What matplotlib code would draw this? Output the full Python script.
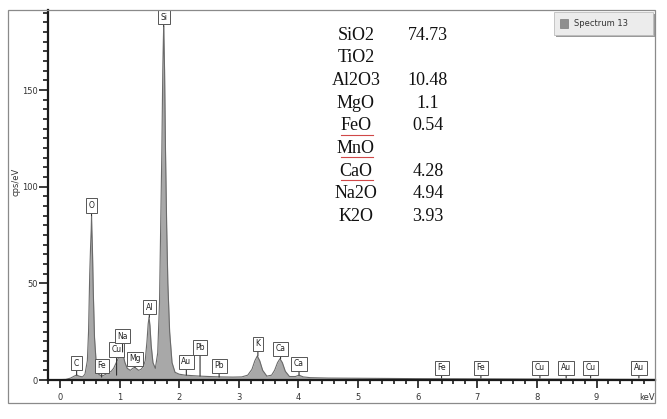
import numpy as np
import matplotlib
matplotlib.use('Agg')
import matplotlib.pyplot as plt
from matplotlib.patches import Rectangle
from matplotlib.lines import Line2D
from matplotlib.ticker import MultipleLocator

# Spectrum trace (keV, cps/eV)
energy_kev = [-0.20, 0.10, 0.18, 0.24, 0.28, 0.32, 0.38, 0.42, 0.46, 0.48, 0.50,
              0.515, 0.525, 0.53, 0.535, 0.545, 0.56, 0.58, 0.61, 0.65, 0.70,
              0.74, 0.80, 0.86, 0.90, 0.93, 0.96, 0.99, 1.02, 1.04, 1.06, 1.09,
              1.13, 1.18, 1.22, 1.25, 1.28, 1.32, 1.36, 1.40, 1.43, 1.46, 1.48,
              1.495, 1.51, 1.53, 1.56, 1.60, 1.64, 1.67, 1.69, 1.71, 1.725,
              1.735, 1.74, 1.745, 1.755, 1.77, 1.79, 1.81, 1.84, 1.88, 1.93,
              2.00, 2.10, 2.20, 2.35, 2.50, 2.70, 2.90, 3.05, 3.15, 3.22, 3.27,
              3.31, 3.35, 3.40, 3.47, 3.55, 3.60, 3.65, 3.69, 3.73, 3.78, 3.85,
              3.95, 4.01, 4.08, 4.20, 4.50, 5.00, 6.00, 7.00, 8.00, 9.00, 10.0]
counts_cps = [0.0, 0.3, 1.0, 2.0, 2.6, 2.0, 1.6, 3.0, 10, 25, 55,
              70, 78, 85, 78, 68, 45, 22, 8, 3.0, 2.0,
              2.5, 3.5, 4.5, 6.0, 8.0, 10, 12, 13.5, 14.5, 13, 9,
              6.0, 5.0, 6.0, 6.5, 6.0, 5.0, 5.5, 7.0, 10, 20, 29,
              32.5, 28, 18, 9, 6.0, 14, 40, 80, 120, 160,
              176, 183, 176, 160, 120, 80, 50, 25, 9, 4.0,
              3.0, 2.5, 2.3, 2.0, 1.8, 1.6, 1.5, 1.6, 2.5, 5.5, 10,
              12.4, 10, 5.0, 2.0, 2.5, 5.0, 9.0, 11, 9.0, 4.5, 1.8,
              1.8, 2.5, 1.6, 1.2, 1.0, 0.9, 0.7, 0.6, 0.5, 0.4, 0.3]

# Peak markers: element, energy, tip height, box bottom
peak_names = ['C', 'O', 'Fe', 'Cu', 'Na', 'Mg', 'Al', 'Si', 'Au', 'Pb', 'Pb',
              'K', 'Ca', 'Ca', 'Fe', 'Fe', 'Cu', 'Au', 'Cu', 'Au']
peak_kev = [0.28, 0.53, 0.70, 0.95, 1.05, 1.26, 1.50, 1.74, 2.12, 2.35, 2.67,
            3.32, 3.70, 4.01, 6.40, 7.06, 8.05, 8.49, 8.90, 9.71]
peak_tip = [2.5, 85, 1.5, 2.5, 14.5, 6.5, 32.5, 183, 2.5, 2.0, 1.5,
            12.4, 11, 2.5, 1.0, 1.0, 1.0, 1.0, 1.0, 1.0]
peak_box = [5.0, 86.5, 3.6, 12, 19, 7.3, 34, 184, 5.7, 13, 3.6,
            15, 12.4, 4.7, 2.6, 2.6, 2.6, 2.6, 2.6, 2.6]

# Oxide composition table
oxides = ['SiO2', 'TiO2', 'Al2O3', 'MgO', 'FeO', 'MnO', 'CaO', 'Na2O', 'K2O']
oxide_wt = ['74.73', '', '10.48', '1.1', '0.54', '', '4.28', '4.94', '3.93']
flagged = ['FeO', 'MnO', 'CaO']

W, H = 667, 419
fig = plt.figure(figsize=(W / 100, H / 100), dpi=100)
fig.patch.set_facecolor('white')


def fx(px):
    return px / W


def fy(py):
    return 1 - py / H


# outer frame
fig.patches.append(Rectangle((fx(8), fy(403)), fx(655) - fx(8), fy(10) - fy(403),
                             transform=fig.transFigure, fill=False,
                             ec='#8a8a8a', lw=0.9))

ax = fig.add_axes([fx(48), fy(380), fx(655) - fx(48), fy(10) - fy(380)])
ax.set_xlim(-0.20, 9.98)
ax.set_ylim(0, 191.4)

ax.fill_between(energy_kev, counts_cps, 0, color='#a8a8a8', lw=0)
ax.plot(energy_kev, counts_cps, color='#6a6a6a', lw=0.8)

for spine in ['top', 'right']:
    ax.spines[spine].set_visible(False)
for spine in ['left', 'bottom']:
    ax.spines[spine].set_linewidth(1.6)
    ax.spines[spine].set_color('#1a1a1a')

ax.xaxis.set_major_locator(MultipleLocator(1))
ax.xaxis.set_minor_locator(MultipleLocator(0.2))
ax.yaxis.set_major_locator(MultipleLocator(50))
ax.yaxis.set_minor_locator(MultipleLocator(5))
ax.tick_params(axis='x', which='major', length=6, width=1.2, color='#1a1a1a',
               labelsize=6, labelcolor='#333333', pad=3)
ax.tick_params(axis='x', which='minor', length=3, width=1.2, color='#1a1a1a')
ax.tick_params(axis='y', which='major', length=6.5, width=1.2, color='#1a1a1a',
               labelsize=6, labelcolor='#333333', pad=1)
ax.tick_params(axis='y', which='minor', length=3.5, width=1.2, color='#1a1a1a')
ax.set_xticks(range(0, 10))
ax.set_xticklabels([str(i) for i in range(0, 10)])

fig.text(fx(647), fy(397), 'keV', fontsize=6, color='#333333',
         ha='center', va='center')
fig.text(fx(16), fy(182), 'cps/eV', fontsize=6, color='#333333',
         rotation=90, ha='center', va='center')

# peak labels
for name, e, tip, box in zip(peak_names, peak_kev, peak_tip, peak_box):
    ax.annotate(name, xy=(e, tip), xytext=(e, box + 1.4),
                ha='center', va='bottom', fontsize=5.5, color='#222222',
                bbox=dict(boxstyle='square,pad=0.35', fc='white',
                          ec='#555555', lw=0.7),
                arrowprops=dict(arrowstyle='-', color='#333333', lw=0.8,
                                shrinkA=0, shrinkB=0),
                annotation_clip=False)

# oxide table
for i, (ox, wt) in enumerate(zip(oxides, oxide_wt)):
    yy = 35 + 22.7 * i
    fig.text(fx(356), fy(yy), ox, fontsize=13, family='Liberation Serif',
             ha='center', va='center', color='#111111')
    if wt:
        fig.text(fx(428), fy(yy), wt, fontsize=13, family='Liberation Serif',
                 ha='center', va='center', color='#111111')
    if ox in flagged:
        fig.lines.append(Line2D([fx(341), fx(373)], [fy(yy + 9), fy(yy + 9)],
                                transform=fig.transFigure, color='#d04848',
                                lw=0.8))

# legend box
fig.patches.append(Rectangle((fx(556), fy(37)), fx(655) - fx(556), fy(14) - fy(37),
                             transform=fig.transFigure, fc='#9a9a9a', ec='none'))
fig.patches.append(Rectangle((fx(554), fy(35)), fx(653) - fx(554), fy(12) - fy(35),
                             transform=fig.transFigure, fc='#ececec',
                             ec='#bdbdbd', lw=0.6))
fig.patches.append(Rectangle((fx(560), fy(28)), fx(568) - fx(560), fy(19) - fy(28),
                             transform=fig.transFigure, fc='#8f8f8f',
                             ec='#7a7a7a', lw=0.5))
fig.text(fx(574), fy(23.5), 'Spectrum 13', fontsize=6, color='#333333',
         ha='left', va='center')

fig.savefig('out.png', dpi=100)
